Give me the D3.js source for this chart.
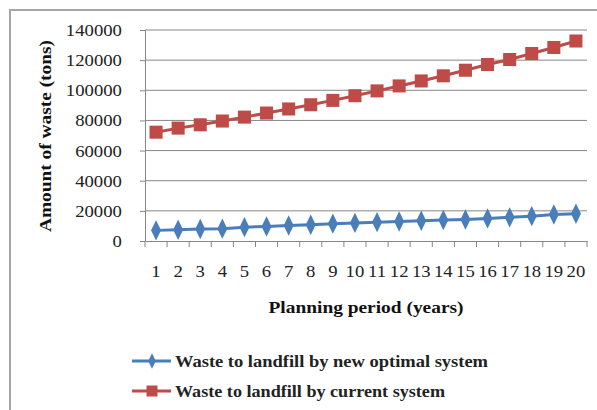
<!DOCTYPE html>
<html><head><meta charset="utf-8">
<script src="https://cdn.jsdelivr.net/npm/d3@7"></script>
<style>body{margin:0;background:#fff}svg{display:block}</style>
</head><body>
<script>
const periods = d3.range(1, 21).map(String);
const optimalValues = [7050,7500,8000,8200,9200,9600,10300,10800,11500,12000,12500,12900,13400,13900,14300,15000,15700,16500,17600,18100];
const currentValues = [72200,74900,77100,79600,82200,84900,87600,90400,93300,96400,99600,102900,106200,109600,113300,117100,120400,124400,128400,132700];
const yTicks = [0,20000,40000,60000,80000,100000,120000,140000];
const seriesNames = ["Waste to landfill by new optimal system","Waste to landfill by current system"];
const colors = ["#4A7EBB","#BE4B48"];

(function(){
const W = 597, H = 410;
const svg = d3.select("body").append("svg").attr("width", W).attr("height", H);
svg.append("rect").attr("x",10).attr("y",10).attr("width",W).attr("height",H)
  .attr("fill","#fff").attr("stroke","#a6a6a6").attr("stroke-width",2);

const mL = 145, mR = 587, mT = 30, mB = 241;
const x = d3.scaleBand().domain(periods).range([mL, mR]);
const y = d3.scaleLinear().domain([0,140000]).range([mB, mT]);
const font = "Liberation Serif, Times New Roman, serif";

svg.append("g").selectAll("line").data(yTicks.filter(d=>d>0)).join("line")
  .attr("x1", mL).attr("x2", mR).attr("y1", d=>y(d)).attr("y2", d=>y(d))
  .attr("stroke","#878787").attr("stroke-width",1);

const ya = svg.append("g").attr("transform",`translate(${mL},0)`)
  .call(d3.axisLeft(y).tickValues(yTicks).tickFormat(d3.format("d")).tickSize(5).tickPadding(16));
ya.select(".domain").attr("stroke","#878787");
ya.selectAll(".tick line").attr("stroke","#878787");
ya.selectAll("text").attr("font-family",font).attr("font-size",17).attr("fill","#222")
  .attr("transform","scale(1.1,1)");

const xa = svg.append("g").attr("transform",`translate(0,${mB})`)
  .call(d3.axisBottom(x).tickSize(0).tickPadding(24));
xa.select(".domain").attr("stroke","#878787");
xa.selectAll("text").attr("font-family",font).attr("font-size",17).attr("fill","#222")
  .attr("transform","scale(1.1,1)");
svg.append("g").selectAll("line").data(periods.concat(["end"])).join("line")
  .attr("x1",(d,i)=> i<periods.length ? x(d) : mR)
  .attr("x2",(d,i)=> i<periods.length ? x(d) : mR)
  .attr("y1",mB).attr("y2",mB+6).attr("stroke","#878787");

svg.append("text").attr("transform","translate(51,136) rotate(-90)")
  .attr("text-anchor","middle").attr("font-family",font).attr("font-weight","bold")
  .attr("font-size",17).attr("textLength",192).attr("lengthAdjust","spacingAndGlyphs")
  .attr("fill","#111").text("Amount of waste (tons)");
svg.append("text").attr("x",366).attr("y",313).attr("text-anchor","middle")
  .attr("font-family",font).attr("font-weight","bold").attr("font-size",17)
  .attr("textLength",195).attr("lengthAdjust","spacingAndGlyphs")
  .attr("fill","#111").text("Planning period (years)");

const line = d3.line().x((d,i)=>x(periods[i])+x.bandwidth()/2).y(d=>y(d));
const all = [optimalValues, currentValues];
all.forEach((vals, s) => {
  svg.append("path").datum(vals).attr("d", line).attr("fill","none")
    .attr("stroke", colors[s]).attr("stroke-width",3);
  const sym = s===0 ? d3.symbolDiamond : d3.symbolSquare;
  const size = s===0 ? 120 : 170;
  svg.append("g").selectAll("path").data(vals).join("path")
    .attr("transform",(d,i)=>`translate(${x(periods[i])+x.bandwidth()/2},${y(d)})` + (s===0?" scale(0.85,1)":""))
    .attr("d", d3.symbol().type(sym).size(size)).attr("fill", colors[s]);
});

const legendLens = [313, 270];
seriesNames.forEach((name, s) => {
  const ly = 361 + s*30;
  const g = svg.append("g");
  g.append("line").attr("x1",132).attr("x2",171).attr("y1",ly).attr("y2",ly)
    .attr("stroke",colors[s]).attr("stroke-width",3);
  g.append("path").attr("transform",`translate(152,${ly})` + (s===0?" scale(0.85,1)":""))
    .attr("d", d3.symbol().type(s===0?d3.symbolDiamond:d3.symbolSquare).size(s===0?70:120))
    .attr("fill",colors[s]);
  g.append("text").attr("x",175).attr("y",ly+6).attr("font-family",font)
    .attr("font-weight","bold").attr("font-size",17).attr("fill","#222")
    .attr("textLength",legendLens[s]).attr("lengthAdjust","spacingAndGlyphs").text(name);
});
})();
</script>
</body></html>
